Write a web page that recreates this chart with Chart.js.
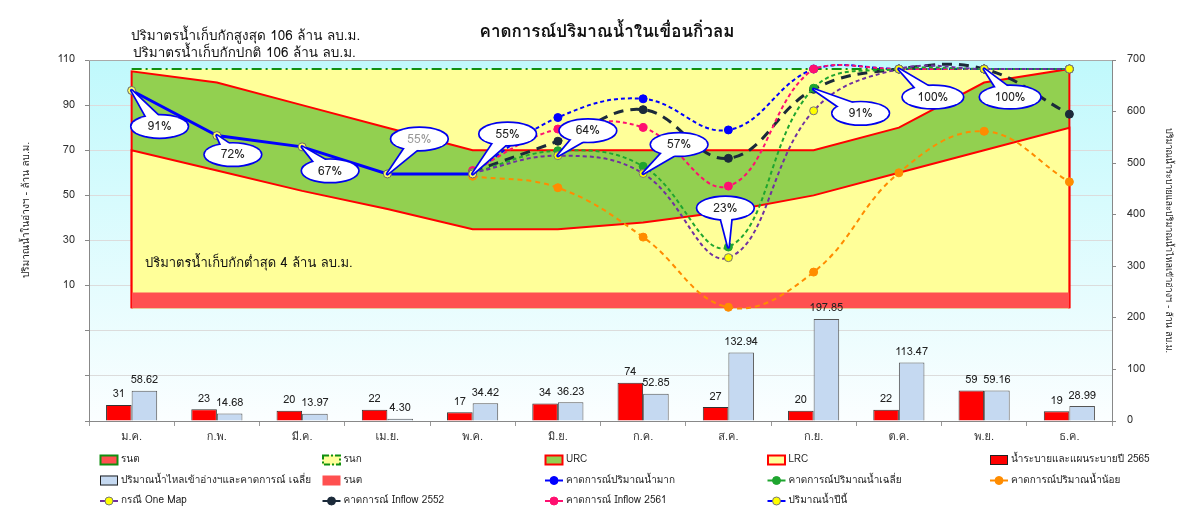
<!DOCTYPE html>
<html>
<head>
<meta charset="utf-8">
<script src="https://cdn.jsdelivr.net/npm/chart.js@4.4.1/dist/chart.umd.min.js"></script>
<style>
  html, body { margin: 0; padding: 0; background: #fff; }
  #wrap { width: 1192px; height: 512px; }
</style>
</head>
<body>
<div id="wrap"><canvas id="c" width="1192" height="512"></canvas></div>
<script>
const months = ['ม.ค.', 'ก.พ.', 'มี.ค.', 'เม.ย.', 'พ.ค.', 'มิ.ย.', 'ก.ค.', 'ส.ค.', 'ก.ย.', 'ต.ค.', 'พ.ย.', 'ธ.ค.'];

// bars (right axis, ล้าน ลบ.ม.)
const releaseVol = [31, 23, 20, 22, 17, 34, 74, 27, 20, 22, 59, 19];
const inflowVol = [58.62, 14.68, 13.97, 4.30, 34.42, 36.23, 52.85, 132.94, 197.85, 113.47, 59.16, 28.99];

// rule curves (left axis)
const storageBase = 0;
const normalStorage = [106, 106, 106, 106, 106, 106, 106, 106, 106, 106, 106, 106];
const minBand = [7, 7, 7, 7, 7, 7, 7, 7, 7, 7, 7, 7];
const urc = [105, 100, 90, 80, 70, 70, 70, 70, 70, 80, 100, 106];
const lrc = [70, 61, 52, 44, 35, 35, 38, 43, 50, 60, 70, 80];

// storage lines (left axis)
const thisYear   = [96.5, 76.5, 71.5, 59.5, 59.5, null, null, null, null, null, null, null];
const fcHigh     = [null, null, null, null, 60, 84.5, 92.8, 79, 106, 106, 106, 106];
const fcAvg      = [null, null, null, null, 60, 69.8, 62.9, 27.1, 97.5, 106, 106, 106];
const fcLow      = [null, null, null, null, 58.5, 53.4, 31.5, 0.4, 16, 60, 78.4, 56];
const oneMap     = [null, null, null, null, 60, 67.6, 59.7, 22.4, 87.5, 106, 106, 106];
const inflow2552 = [null, null, null, null, 60.5, 74, 88, 66.4, 97, 106, 106, 86];
const inflow2561 = [null, null, null, null, 61, 79.4, 80.1, 54.1, 106, 106, 106, 106];

const pctLabels = ['91%', '72%', '67%', '55%', '55%', '64%', '57%', '23%', '91%', '100%', '100%'];

const FONT = "Tahoma, Loma, Garuda, 'Noto Sans Thai', 'Noto Sans', 'DejaVu Sans', sans-serif";

function polygon(arr) {
  return [{x: months[0], y: storageBase}]
    .concat(arr.map((v, i) => ({x: months[i], y: v})))
    .concat([{x: months[months.length - 1], y: storageBase}]);
}

function fcLine(key, label, data, color, dash, width, pointFill, order) {
  return {
    type: 'line', key: key, label: label, data: data, yAxisID: 'y', order: order,
    borderColor: color, borderWidth: width, borderDash: dash, tension: 0.4,
    pointRadius: 4, pointBackgroundColor: pointFill || color,
    pointBorderColor: pointFill ? '#777' : color, pointBorderWidth: 1, fill: false
  };
}

// speech bubbles: which line/point they point at, and bubble offset from it
const callouts = [
  {key: 'now', i: 0, dx: 28, dy: 36},
  {key: 'now', i: 1, dx: 16, dy: 19},
  {key: 'now', i: 2, dx: 28, dy: 24},
  {key: 'now', i: 3, dx: 32, dy: -35, color: '#999'},
  {key: 'now', i: 4, dx: 35, dy: -40},
  {key: 'onemap', i: 5, dx: 30, dy: -25},
  {key: 'onemap', i: 6, dx: 36, dy: -29},
  {key: 'avg', i: 7, dx: -3, dy: -39},
  {key: 'y2552', i: 8, dx: 47, dy: 24},
  {key: 'high', i: 9, dx: 34, dy: 28},
  {key: 'high', i: 10, dx: 26, dy: 28}
];

const legendItems = [
  {text: 'รนต', type: 'box', fill: '#ff5050', stroke: '#109010'},
  {text: 'รนก', type: 'box', fill: '#ffff99', stroke: '#109010', dash: true},
  {text: 'URC', type: 'box', fill: '#92d050', stroke: '#ff0000'},
  {text: 'LRC', type: 'box', fill: '#ffff99', stroke: '#ff0000'},
  {text: 'น้ำระบายและแผนระบายปี 2565', type: 'box', fill: '#ff0000', stroke: '#222'},
  {text: 'ปริมาณน้ำไหลเข้าอ่างฯและคาดการณ์ เฉลี่ย', type: 'box', fill: '#c5d9f1', stroke: '#222'},
  {text: 'รนต', type: 'box', fill: '#ff5050', stroke: null},
  {text: 'คาดการณ์ปริมาณน้ำมาก', type: 'line', color: '#0000ff', dot: '#0000ff'},
  {text: 'คาดการณ์ปริมาณน้ำเฉลี่ย', type: 'line', color: '#1fa52f', dot: '#1fa52f'},
  {text: 'คาดการณ์ปริมาณน้ำน้อย', type: 'line', color: '#ff8c00', dot: '#ff8c00'},
  {text: 'กรณี One Map', type: 'line', color: '#7030a0', dot: '#ffff00'},
  {text: 'คาดการณ์ Inflow 2552', type: 'line', color: '#1b2a3a', dot: '#1b2a3a'},
  {text: 'คาดการณ์ Inflow 2561', type: 'line', color: '#ff1070', dot: '#ff1070'},
  {text: 'ปริมาณน้ำปีนี้', type: 'line', color: '#0000ff', dot: '#ffff00'}
];

const extras = {
  id: 'extras',
  beforeDraw(chart) {
    const {ctx, chartArea: a} = chart;
    const g = ctx.createLinearGradient(0, a.top, 0, a.bottom);
    g.addColorStop(0, '#c0f9fc');
    g.addColorStop(1, '#fbfeff');
    ctx.save();
    ctx.fillStyle = g;
    ctx.fillRect(a.left, a.top, a.right - a.left, a.bottom - a.top);
    ctx.restore();
  },
  afterDatasetsDraw(chart) {
    const {ctx, chartArea: a} = chart;
    ctx.save();
    // frame top
    ctx.strokeStyle = '#aaa';
    ctx.lineWidth = 1;
    ctx.beginPath();
    ctx.moveTo(a.left, a.top + 0.5);
    ctx.lineTo(a.right, a.top + 0.5);
    ctx.stroke();

    // bar value labels
    ctx.fillStyle = '#222';
    ctx.font = '11px ' + FONT;
    ctx.textAlign = 'center';
    ctx.textBaseline = 'middle';
    chart.data.datasets.forEach((ds, di) => {
      if (ds.type !== 'bar') return;
      chart.getDatasetMeta(di).data.forEach((el, i) => {
        const v = ds.data[i];
        ctx.fillText(ds.key === 'inflow' ? v.toFixed(2) : String(v), el.x, el.y - 10);
      });
    });

    ctx.textAlign = 'left';
    ctx.font = '13px ' + FONT;
    ctx.fillStyle = '#111';
    ctx.fillText('ปริมาตรน้ำเก็บกักต่ำสุด 4 ล้าน ลบ.ม.', 145, 264);

    // callouts
    callouts.forEach((c, n) => {
      const di = chart.data.datasets.findIndex(d => d.key === c.key);
      const pt = chart.getDatasetMeta(di).data[c.i];
      const px = pt.x, py = pt.y;
      const cx = px + c.dx, cy = py + c.dy;
      const text = pctLabels[n];
      const w = text.length > 3 ? 60 : 56, h = 22;
      const ang = Math.atan2(py - cy, px - cx);
      const nx = -Math.sin(ang) * 7, ny = Math.cos(ang) * 7;
      const tail = () => {
        ctx.beginPath();
        ctx.moveTo(cx + nx, cy + ny);
        ctx.lineTo(px, py);
        ctx.lineTo(cx - nx, cy - ny);
        ctx.closePath();
      };
      const ell = () => {
        ctx.beginPath();
        ctx.ellipse(cx, cy, w / 2, h / 2, 0, 0, Math.PI * 2);
      };
      ctx.lineJoin = 'round';
      ctx.lineWidth = 3.4;
      ctx.strokeStyle = '#0000ee';
      tail(); ctx.stroke();
      ell(); ctx.stroke();
      ctx.fillStyle = '#fff';
      tail(); ctx.fill();
      ell(); ctx.fill();
      ctx.fillStyle = c.color || '#222';
      ctx.font = '12px ' + FONT;
      ctx.textAlign = 'center';
      ctx.fillText(text, cx, cy + 1);
    });
    ctx.restore();
  },
  afterDraw(chart) {
    const {ctx} = chart;
    ctx.save();
    ctx.fillStyle = '#111';
    ctx.textBaseline = 'middle';
    ctx.textAlign = 'center';
    ctx.font = 'bold 17px ' + FONT;
    ctx.fillText('คาดการณ์ปริมาณน้ำในเขื่อนกิ่วลม', 607, 33);
    ctx.textAlign = 'left';
    ctx.font = '13.5px ' + FONT;
    ctx.fillText('ปริมาตรน้ำเก็บกักสูงสุด 106 ล้าน ลบ.ม.', 131, 37);
    ctx.fillText('ปริมาตรน้ำเก็บกักปกติ 106 ล้าน ลบ.ม.', 133, 54);

    // left axis title
    ctx.save();
    ctx.translate(27, 210);
    ctx.rotate(-Math.PI / 2);
    ctx.textAlign = 'center';
    ctx.font = '10px ' + FONT;
    ctx.fillStyle = '#222';
    ctx.fillText('ปริมาณน้ำในอ่างฯ - ล้าน ลบ.ม.', 0, 0);
    ctx.restore();

    // legend, 5 columns x 3 rows
    ctx.font = '10px ' + FONT;
    legendItems.forEach((it, n) => {
      const x = 100 + (n % 5) * 222.5;
      const y = 460 + Math.floor(n / 5) * 20.5;
      if (it.type === 'box') {
        ctx.fillStyle = it.fill;
        ctx.fillRect(x, y - 5, 18, 10);
        if (it.stroke) {
          ctx.strokeStyle = it.stroke;
          ctx.lineWidth = it.stroke === '#222' ? 1 : 2;
          ctx.setLineDash(it.dash ? [6, 2, 2, 2] : []);
          ctx.strokeRect(x + 0.5, y - 4.5, 17, 9);
          ctx.setLineDash([]);
        }
      } else {
        ctx.strokeStyle = it.color;
        ctx.lineWidth = 2;
        ctx.beginPath();
        ctx.moveTo(x, y);
        ctx.lineTo(x + 18, y);
        ctx.stroke();
        ctx.beginPath();
        ctx.arc(x + 9, y, 4, 0, Math.PI * 2);
        ctx.fillStyle = it.dot;
        ctx.fill();
        ctx.lineWidth = 1;
        ctx.strokeStyle = it.dot === '#ffff00' ? '#777' : it.dot;
        ctx.stroke();
      }
      ctx.fillStyle = '#222';
      ctx.fillText(it.text, x + 21, y);
    });
    ctx.restore();
  }
};

new Chart(document.getElementById('c'), {
  data: {
    labels: months,
    datasets: [
      {type: 'line', key: 'rnk', label: 'รนก', data: normalStorage, yAxisID: 'y', order: 100,
        borderColor: '#109010', borderWidth: 2, borderDash: [10, 4, 2, 4], pointRadius: 0,
        fill: 'origin', backgroundColor: '#ffff99', tension: 0},
      {type: 'line', key: 'urc', label: 'URC', data: polygon(urc), yAxisID: 'y', order: 90,
        borderColor: '#ff0000', borderWidth: 2, pointRadius: 0,
        fill: 'origin', backgroundColor: '#92d050', tension: 0},
      {type: 'line', key: 'lrc', label: 'LRC', data: polygon(lrc), yAxisID: 'y', order: 80,
        borderColor: '#ff0000', borderWidth: 2, pointRadius: 0,
        fill: 'origin', backgroundColor: '#ffff99', tension: 0},
      {type: 'line', key: 'rnt', label: 'รนต', data: minBand, yAxisID: 'y', order: 70,
        borderColor: '#ff5050', borderWidth: 0, pointRadius: 0,
        fill: 'origin', backgroundColor: '#ff5050', tension: 0},
      {type: 'bar', key: 'release', label: 'น้ำระบายและแผนระบายปี 2565', data: releaseVol, yAxisID: 'y2', order: 60,
        backgroundColor: '#ff0000', borderColor: '#333', borderWidth: 1,
        categoryPercentage: 0.6, barPercentage: 1},
      {type: 'bar', key: 'inflow', label: 'ปริมาณน้ำไหลเข้าอ่างฯและคาดการณ์ เฉลี่ย', data: inflowVol, yAxisID: 'y2', order: 60,
        backgroundColor: '#c5d9f1', borderColor: '#555', borderWidth: 1,
        categoryPercentage: 0.6, barPercentage: 1},
      fcLine('low', 'คาดการณ์ปริมาณน้ำน้อย', fcLow, '#ff8c00', [5, 4], 2, null, 20),
      fcLine('high', 'คาดการณ์ปริมาณน้ำมาก', fcHigh, '#0000ff', [4, 3], 2, null, 19),
      fcLine('y2552', 'คาดการณ์ Inflow 2552', inflow2552, '#1b2a3a', [10, 7], 3, null, 18),
      fcLine('y2561', 'คาดการณ์ Inflow 2561', inflow2561, '#ff1070', [4, 3], 2, null, 17),
      fcLine('avg', 'คาดการณ์ปริมาณน้ำเฉลี่ย', fcAvg, '#1fa52f', [4, 3], 2, null, 16),
      fcLine('onemap', 'กรณี One Map', oneMap, '#7030a0', [4, 3], 2, '#ffff00', 15),
      {type: 'line', key: 'now', label: 'ปริมาณน้ำปีนี้', data: thisYear, yAxisID: 'y', order: 1,
        borderColor: '#0000ff', borderWidth: 3, tension: 0, fill: false,
        pointRadius: 4, pointBackgroundColor: '#ffff66', pointBorderColor: '#666', pointBorderWidth: 1}
    ]
  },
  options: {
    responsive: false,
    animation: false,
    devicePixelRatio: 1,
    layout: {padding: {top: 60, left: 0, right: 0, bottom: 0}},
    plugins: {legend: {display: false}, tooltip: {enabled: false}, title: {display: false}},
    scales: {
      x: {
        offset: true,
        grid: {display: true, drawOnChartArea: false, drawTicks: true, tickLength: 5, color: '#999', offset: true},
        border: {color: '#888'},
        ticks: {color: '#333', font: {size: 11, family: FONT}, padding: 5, maxRotation: 0, autoSkip: false},
        afterFit: s => { s.height = 91; }
      },
      y: {
        position: 'left', min: -50, max: 110,
        ticks: {stepSize: 20, padding: 10, color: '#333', font: {size: 11, family: FONT},
          callback: v => (v >= 10 ? v : '')},
        grid: {color: '#dcdcdc', tickLength: 4, tickColor: '#888'},
        border: {color: '#888'},
        afterFit: s => { s.width = 89; }
      },
      y2: {
        position: 'right', min: 0, max: 700,
        ticks: {stepSize: 100, padding: 11, color: '#333', font: {size: 11, family: FONT}},
        grid: {drawOnChartArea: false, tickLength: 4, color: '#888'},
        border: {color: '#888'},
        title: {display: true, text: 'ปริมาณน้ำระบายและปริมาณน้ำไหลเข้าอ่างฯ - ล้าน ลบ.ม.',
          color: '#222', font: {size: 9, family: FONT}, padding: {top: 19, bottom: 0}},
        afterFit: s => { s.width = 80; }
      }
    }
  },
  plugins: [extras]
});
</script>
</body>
</html>
